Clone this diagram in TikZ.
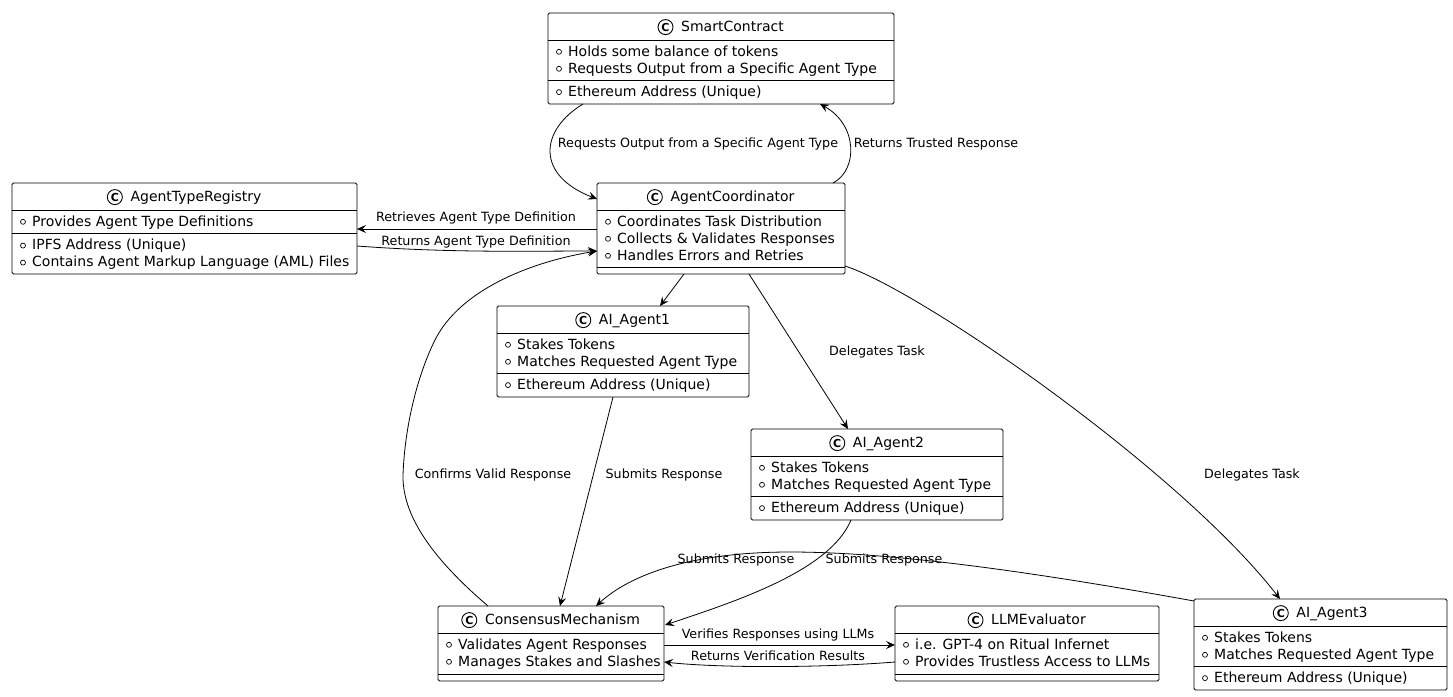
\documentclass[tikz,border=0pt]{standalone}
\usepackage{fontspec}
\setmainfont{DejaVu Sans}
\usetikzlibrary{arrows.meta,calc}

\tikzset{
  boxst/.style={draw, line width=0.9pt, rounded corners=1.5pt, inner sep=0pt, outer sep=0pt},
  titlest/.style={inner sep=0pt, anchor=base, font=\fontsize{14}{16}\selectfont},
  iconst/.style={circle, draw, line width=0.9pt, minimum size=15pt, inner sep=0pt, font=\fontsize{11}{11}\selectfont\bfseries},
  fldst/.style={inner sep=0pt, anchor=base west, font=\fontsize{14}{16}\selectfont},
  bulletst/.style={draw, line width=0.7pt},
  rulest/.style={line width=0.9pt},
  lbl/.style={inner sep=0pt, anchor=base, font=\fontsize{12.7}{14}\selectfont},
  conn/.style={draw, line width=0.8pt, -{Stealth[length=9pt,width=8pt,inset=3.5pt]}},
}

% name, x, y, w, h, title
\newcommand\umlclass[6]{%
  \node[boxst, minimum width=#4pt, minimum height=#5pt, anchor=north west] (#1) at (#2,#3) {};
  \node[titlest] (#1-t) at ($(#1.north)+(0,18.7)$) {\hspace*{23pt}#6};
  \node[iconst] (#1-c) at ($(#1-t.base west)+(7.5,-4.6)$) {C};
  \draw[rulest] ($(#1.north west)+(0,27.5)$) -- ($(#1.north east)+(0,27.5)$);
}
% name, id, center offset, text
\newcommand\umlfld[4]{%
  \node[fldst] (#1-#2) at ($(#1.north west)+(20,#3+5)$) {#4};
  \draw[bulletst] ($(#1.north west)+(11,#3+0.8)$) circle[radius=2.5pt];
}
\newcommand\umldiv[2]{%
  \draw[rulest] ($(#1.north west)+(0,#2)$) -- ($(#1.north east)+(0,#2)$);
}

\begin{document}
\begin{tikzpicture}[x=1pt,y=-1pt]
\useasboundingbox (0,0) rectangle (1453,696);
\fill[white] (0,0) rectangle (1453,696);

% SmartContract
\umlclass{sc}{548}{13}{346}{91}{SmartContract}
\umlfld{sc}{f1}{38}{Holds some balance of tokens}
\umlfld{sc}{f2}{55}{Requests Output from a Specific Agent Type}
\umldiv{sc}{67}
\umlfld{sc}{m1}{78.3}{Ethereum Address (Unique)}

% AgentTypeRegistry
\umlclass{atr}{12}{183}{345}{91}{AgentTypeRegistry}
\umlfld{atr}{f1}{38}{Provides Agent Type Definitions}
\umldiv{atr}{50.5}
\umlfld{atr}{m1}{61.8}{IPFS Address (Unique)}
\umlfld{atr}{m2}{78.8}{Contains Agent Markup Language (AML) Files}

% AgentCoordinator
\umlclass{ac}{597}{183}{248}{91}{AgentCoordinator}
\umlfld{ac}{f1}{38}{Coordinates Task Distribution}
\umlfld{ac}{f2}{55}{Collects \& Validates Responses}
\umlfld{ac}{f3}{72}{Handles Errors and Retries}
\umldiv{ac}{84}

% AI_Agent1
\umlclass{a1}{497}{306}{252}{91}{AI\_Agent1}
\umlfld{a1}{f1}{38}{Stakes Tokens}
\umlfld{a1}{f2}{55}{Matches Requested Agent Type}
\umldiv{a1}{67}
\umlfld{a1}{m1}{78.3}{Ethereum Address (Unique)}

% AI_Agent2
\umlclass{a2}{751}{429}{252}{91}{AI\_Agent2}
\umlfld{a2}{f1}{38}{Stakes Tokens}
\umlfld{a2}{f2}{55}{Matches Requested Agent Type}
\umldiv{a2}{67}
\umlfld{a2}{m1}{78.3}{Ethereum Address (Unique)}

% AI_Agent3
\umlclass{a3}{1194}{599}{253}{91}{AI\_Agent3}
\umlfld{a3}{f1}{38}{Stakes Tokens}
\umlfld{a3}{f2}{55}{Matches Requested Agent Type}
\umldiv{a3}{67}
\umlfld{a3}{m1}{78.3}{Ethereum Address (Unique)}

% ConsensusMechanism
\umlclass{cm}{438}{606}{226}{75}{ConsensusMechanism}
\umlfld{cm}{f1}{38}{Validates Agent Responses}
\umlfld{cm}{f2}{55}{Manages Stakes and Slashes}
\umldiv{cm}{68}

% LLMEvaluator
\umlclass{llm}{895}{606}{264}{75}{LLMEvaluator}
\umlfld{llm}{f1}{38}{i.e. GPT-4 on Ritual Infernet}
\umlfld{llm}{f2}{55}{Provides Trustless Access to LLMs}
\umldiv{llm}{68}

% Connectors
\draw[conn] ($(sc.south west)+(35,0)$) .. controls (540,130) and (535,175) .. ($(ac.north west)+(0,16)$);
\draw[conn] ($(ac.north east)+(-12,0)$) .. controls (858,170) and (858,125) .. ($(sc.south west)+(272,0)$);
\draw[conn] ($(ac.north west)+(0,46)$) -- ($(atr.north east)+(0,46)$);
\draw[conn] ($(atr.north east)+(0,63)$) .. controls (450,253) and (530,251) .. ($(ac.north west)+(0,68)$);
\draw[conn] ($(ac.south west)+(87,0)$) -- ($(a1.north west)+(163,0)$);
\draw[conn] ($(ac.south west)+(152,0)$) -- ($(a2.north west)+(97,0)$);
\draw[conn] ($(ac.north east)+(0,83)$) .. controls (920,290) and (1180,470) .. ($(a3.north west)+(86,0)$);
\draw[conn] ($(a1.south west)+(116,0)$) -- ($(cm.north west)+(122,0)$);
\draw[conn] ($(a2.south west)+(100,0)$) .. controls (830,570) and (740,600) .. ($(cm.north east)+(1,19)$);
\draw[conn] ($(a3.north west)+(0,2)$) .. controls (1050,575) and (900,552) .. (790,552) .. controls (690,552) and (630,575) .. ($(cm.north west)+(158,0)$);
\draw[conn] ($(cm.north west)+(50,0)$) .. controls (440,565) and (402,520) .. (403,475) .. controls (405,420) and (420,370) .. (435,340) .. controls (460,290) and (530,262) .. ($(ac.north west)+(0,68)$);
\draw[conn] ($(cm.north east)+(0,39)$) -- ($(llm.north west)+(0,39)$);
\draw[conn] ($(llm.north west)+(0,56)$) .. controls (820,668) and (720,668) .. ($(cm.north east)+(0,56)$);

% Labels
\node[lbl] (l1) at (698,147.5) {Requests Output from a Specific Agent Type};
\node[lbl] (l2) at (936,147.5) {Returns Trusted Response};
\node[lbl] (l3) at (476,221.5) {Retrieves Agent Type Definition};
\node[lbl] (l4) at (476,245.5) {Returns Agent Type Definition};
\node[lbl] (l5) at (877,355.5) {Delegates Task};
\node[lbl] (l6) at (1252,478.5) {Delegates Task};
\node[lbl] (l7) at (664,478.5) {Submits Response};
\node[lbl] (l8) at (493,478.5) {Confirms Valid Response};
\node[lbl] (l9) at (736,563.5) {Submits Response};
\node[lbl] (l10) at (884,563.5) {Submits Response};
\node[lbl] (l11) at (778,638.5) {Verifies Responses using LLMs};
\node[lbl] (l12) at (778,660.5) {Returns Verification Results};
\end{tikzpicture}
\end{document}
